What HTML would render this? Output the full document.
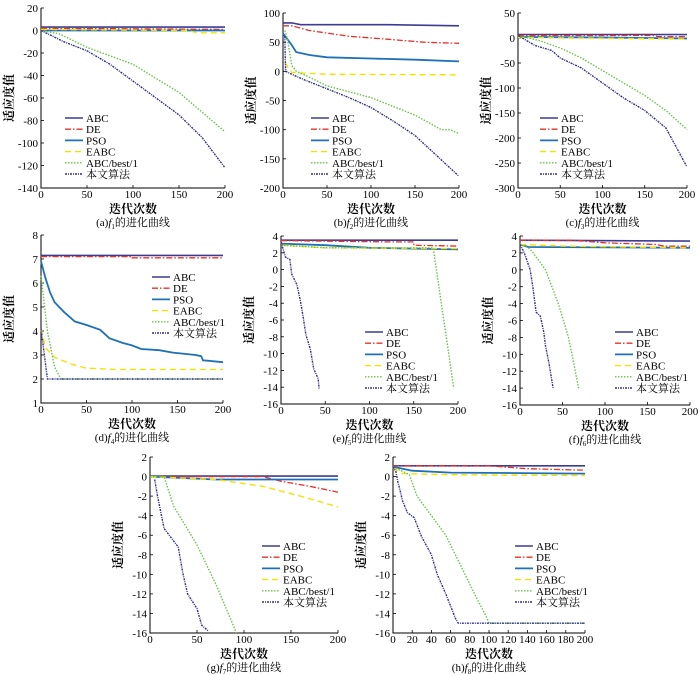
<!DOCTYPE html>
<html><head><meta charset="utf-8">
<style>
body{margin:0;background:#fff;}
svg{display:block;font-family:"Liberation Serif","Noto Serif CJK SC",serif;}
</style></head>
<body>
<svg id="fig" width="700" height="675" viewBox="0 0 700 675" xmlns="http://www.w3.org/2000/svg"></svg>
<script>
const seriesNames=["ABC","DE","PSO","EABC","ABC/best/1","本文算法"];
const colors=["#3c3c96","#e8302a","#1f70b6","#f2e200","#6cc24a","#2e2e8e"];
const dashes=["","6,2,1.5,2","","6,4","1.5,1.5","2,1,1,1"];
const widths=[1.6,1.3,1.8,1.4,1.4,1.4];

const xTicksA=[0,50,100,150,200];
const xTicksH=[0,20,40,60,80,100,120,140,160,180,200];
const yTicksA=[20,0,-20,-40,-60,-80,-100,-120,-140];
const yTicksB=[100,50,0,-50,-100,-150,-200];
const yTicksC=[50,0,-50,-100,-150,-200,-250,-300];
const yTicksD=[8,7,6,5,4,3,2,1];
const yTicksE=[4,2,0,-2,-4,-6,-8,-10,-12,-14,-16];
const yTicksG=[2,0,-2,-4,-6,-8,-10,-12,-14,-16];

const dataA=[
 [[0,3],[200,3]],
 [[0,2],[100,1.5],[200,1]],
 [[0,0],[200,0]],
 [[0,1],[160,0],[170,-2],[200,-2]],
 [[0,0],[20,-3],[50,-15],[100,-30],[150,-55],[200,-90]],
 [[0,0],[25,-10],[50,-18],[75,-30],[100,-45],[125,-60],[150,-75],[175,-95],[200,-122]]];
const dataB=[
 [[0,83],[10,83],[20,80],[120,80],[200,78]],
 [[0,78],[10,78],[30,70],[75,60],[120,55],[160,50],[200,48]],
 [[0,65],[10,45],[15,33],[30,28],[50,24],[100,22],[150,20],[200,17]],
 [[2,15],[10,-2],[50,-5],[200,-6]],
 [[2,70],[5,55],[10,10],[15,0],[30,-10],[50,-25],[100,-45],[150,-75],[180,-100],[190,-100],[200,-107]],
 [[2,60],[3,0],[10,-5],[25,-15],[50,-30],[75,-45],[100,-62],[125,-85],[150,-110],[175,-145],[200,-180]]];
const dataC=[
 [[0,7],[200,7]],
 [[0,5],[160,5],[165,3],[200,3]],
 [[0,2],[100,1],[200,-1]],
 [[0,1],[200,-2]],
 [[0,5],[25,-5],[50,-20],[75,-40],[100,-65],[125,-90],[150,-115],[175,-145],[200,-183]],
 [[0,5],[20,-15],[40,-25],[50,-40],[75,-60],[100,-90],[125,-120],[150,-145],[175,-180],[200,-258]]];
const dataD=[
 [[0,7.15],[200,7.15]],
 [[0,7.1],[100,7.1],[100,7.05],[200,7.05]],
 [[0,6.9],[5,6.2],[10,5.6],[15,5.2],[25,4.8],[37,4.4],[50,4.25],[65,4.05],[75,3.7],[90,3.5],[100,3.4],[110,3.25],[130,3.2],[145,3.1],[170,3.0],[176,2.95],[178,2.78],[200,2.7]],
 [[0,4.1],[5,3.3],[15,2.9],[35,2.6],[50,2.45],[80,2.4],[200,2.4]],
 [[0,6.3],[7,4],[15,2.5],[22,2.0],[200,2.0]],
 [[0,4.1],[7,2.0],[200,2.0]]];
const dataE=[
 [[0,3.5],[200,3.5]],
 [[0,3.45],[120,3.3],[150,3.3],[150,2.9],[200,2.8]],
 [[0,3.1],[50,2.9],[100,2.6],[150,2.5],[200,2.4]],
 [[0,2.9],[50,2.6],[200,2.5]],
 [[0,2.9],[50,2.6],[172,2.6],[195,-14]],
 [[0,3.3],[5,1.5],[10,1.2],[12,-0.5],[18,-1.8],[22,-3.8],[25,-5.6],[28,-7.7],[33,-9.4],[37,-11.8],[42,-13],[43,-14.2]]];
const dataF=[
 [[0,3.5],[200,3.4]],
 [[0,3.5],[60,3.5],[100,3.2],[160,3.0],[170,2.8],[200,2.8]],
 [[0,3.0],[10,2.7],[200,2.6]],
 [[0,3.0],[50,2.8],[200,2.6]],
 [[0,3.0],[10,2.6],[14,2.2],[30,0],[45,-4],[57,-8],[65,-12],[69,-14]],
 [[0,3.0],[5,2.0],[12,0],[15,-2],[19,-5],[24,-5.5],[28,-7.4],[30,-9],[34,-11],[39,-14]]];
const dataG=[
 [[0,0.05],[200,0.05]],
 [[0,0],[120,0],[140,-0.5],[170,-1],[200,-1.6]],
 [[0,0],[70,-0.3],[200,-0.3]],
 [[0,0],[70,-0.3],[120,-1],[160,-2],[200,-3.1]],
 [[0,0],[15,0],[25,-3],[50,-7],[70,-11],[92,-16]],
 [[5,-0.3],[8,-2],[15,-5.3],[30,-7.2],[35,-9.9],[40,-12],[50,-13.5],[55,-15.2],[62,-15.8]]];
const dataH=[
 [[0,1.1],[200,1.1]],
 [[0,1.1],[100,1.1],[140,0.8],[200,0.65]],
 [[0,1.0],[20,0.6],[60,0.4],[200,0.3]],
 [[0,0.9],[10,0.3],[50,0.2],[200,0.1]],
 [[0,1.0],[17,0.2],[25,-2],[40,-4],[55,-6],[65,-8],[85,-12],[98,-14.5],[100,-15],[200,-15]],
 [[0,1.0],[3,0.5],[5,-0.5],[10,-2.5],[15,-3.7],[22,-4.2],[30,-6.2],[40,-8],[46,-10],[55,-12],[65,-14.5],[68,-15],[200,-15]]];

const panels=[
 {id:"a",sub:"1",data:dataA,yt:yTicksA,xt:xTicksA,x0:41,x1:225,yTop:8,yBot:188,lx:65,ly:118},
 {id:"b",sub:"2",data:dataB,yt:yTicksB,xt:xTicksA,x0:283,x1:459,yTop:13,yBot:188,lx:311,ly:118},
 {id:"c",sub:"3",data:dataC,yt:yTicksC,xt:xTicksA,x0:518,x1:687,yTop:13,yBot:188,lx:540,ly:118},
 {id:"d",sub:"4",data:dataD,yt:yTicksD,xt:xTicksA,x0:41,x1:223,yTop:235,yBot:403,lx:152,ly:277},
 {id:"e",sub:"5",data:dataE,yt:yTicksE,xt:xTicksA,x0:281,x1:458,yTop:236,yBot:404,lx:365,ly:332},
 {id:"f",sub:"6",data:dataF,yt:yTicksE,xt:xTicksA,x0:520,x1:690,yTop:236,yBot:405,lx:615,ly:332},
 {id:"g",sub:"7",data:dataG,yt:yTicksG,xt:xTicksA,x0:150,x1:338,yTop:457,yBot:633,lx:262,ly:546},
 {id:"h",sub:"8",data:dataH,yt:yTicksG,xt:xTicksH,x0:393,x1:585,yTop:457,yBot:633,lx:515,ly:546}];

const NS="http://www.w3.org/2000/svg";
const fig=document.getElementById("fig");
function mk(tag,attrs,parent){const e=document.createElementNS(NS,tag);for(const k in attrs)e.setAttribute(k,attrs[k]);parent.appendChild(e);return e;}

panels.forEach(p=>{
  const g=mk("g",{},fig);
  
  
  const yMax=p.yt[0],yMin=p.yt[p.yt.length-1];
  const sx=v=>p.x0+(v-0)/(200-0)*(p.x1-p.x0);
  const sy=v=>p.yBot-(v-yMin)/(yMax-yMin)*(p.yBot-p.yTop);
  // axes
  const ax=mk("path",{d:`M${p.x0},${p.yTop}V${p.yBot}H${p.x1}`,fill:"none",stroke:"#000","stroke-width":1},g);
  
  
  p.yt.forEach(t=>{
    const y=sy(t);
    mk("line",{x1:p.x0,x2:p.x0+3,y1:y,y2:y,stroke:"#000","stroke-width":0.8},g);
    const tx=mk("text",{x:p.x0-3,y:y+4,"text-anchor":"end","font-size":11},g);
    tx.textContent=t;
    
    
  });
  p.xt.forEach(t=>{
    const x=sx(t);
    mk("line",{x1:x,x2:x,y1:p.yBot,y2:p.yBot-3,stroke:"#000","stroke-width":0.8},g);
    const tx=mk("text",{x:x,y:p.yBot+10,"text-anchor":"middle","font-size":11},g);
    tx.textContent=t;
    
    
  });
  const xl=mk("text",{x:(p.x0+p.x1)/2,y:p.yBot+25,"text-anchor":"middle","font-size":12,"font-weight":"bold"},g);
  xl.textContent="迭代次数";
  
  
  const cap=mk("text",{x:(p.x0+p.x1)/2,y:p.yBot+38,"text-anchor":"middle","font-size":11},g);
  cap.innerHTML=`(${p.id})<tspan font-style="italic">f</tspan><tspan font-size="7" dy="3">${p.sub}</tspan><tspan dy="-3">的进化曲线</tspan>`;
  
  
  const cy=(p.yTop+p.yBot)/2, cx=p.x0-32;
  const yl=mk("text",{x:cx,y:cy+4,"text-anchor":"middle","font-size":12,"font-weight":"bold",transform:`rotate(-90 ${cx} ${cy})`},g);
  yl.textContent="适应度值";
  
  
  // series
  p.data.forEach((s,i)=>{
    const d=s.map((pt,j)=>(j?"L":"M")+sx(pt[0]).toFixed(1)+","+sy(pt[1]).toFixed(1)).join("");
    const ln=mk("path",{d:d,fill:"none",stroke:colors[i],"stroke-width":widths[i],"stroke-dasharray":dashes[i]},g);
    
    
  });
  // legend
  const lg=mk("g",{},g);
  
  
  seriesNames.forEach((n,i)=>{
    const y=p.ly+i*11.2;
    mk("line",{x1:p.lx,x2:p.lx+18,y1:y,y2:y,stroke:colors[i],"stroke-width":widths[i],"stroke-dasharray":dashes[i]},lg);
    const t=mk("text",{x:p.lx+21,y:y+4,"font-size":11},lg);
    t.textContent=n;
    
    
  });
});
</script>
</body></html>
